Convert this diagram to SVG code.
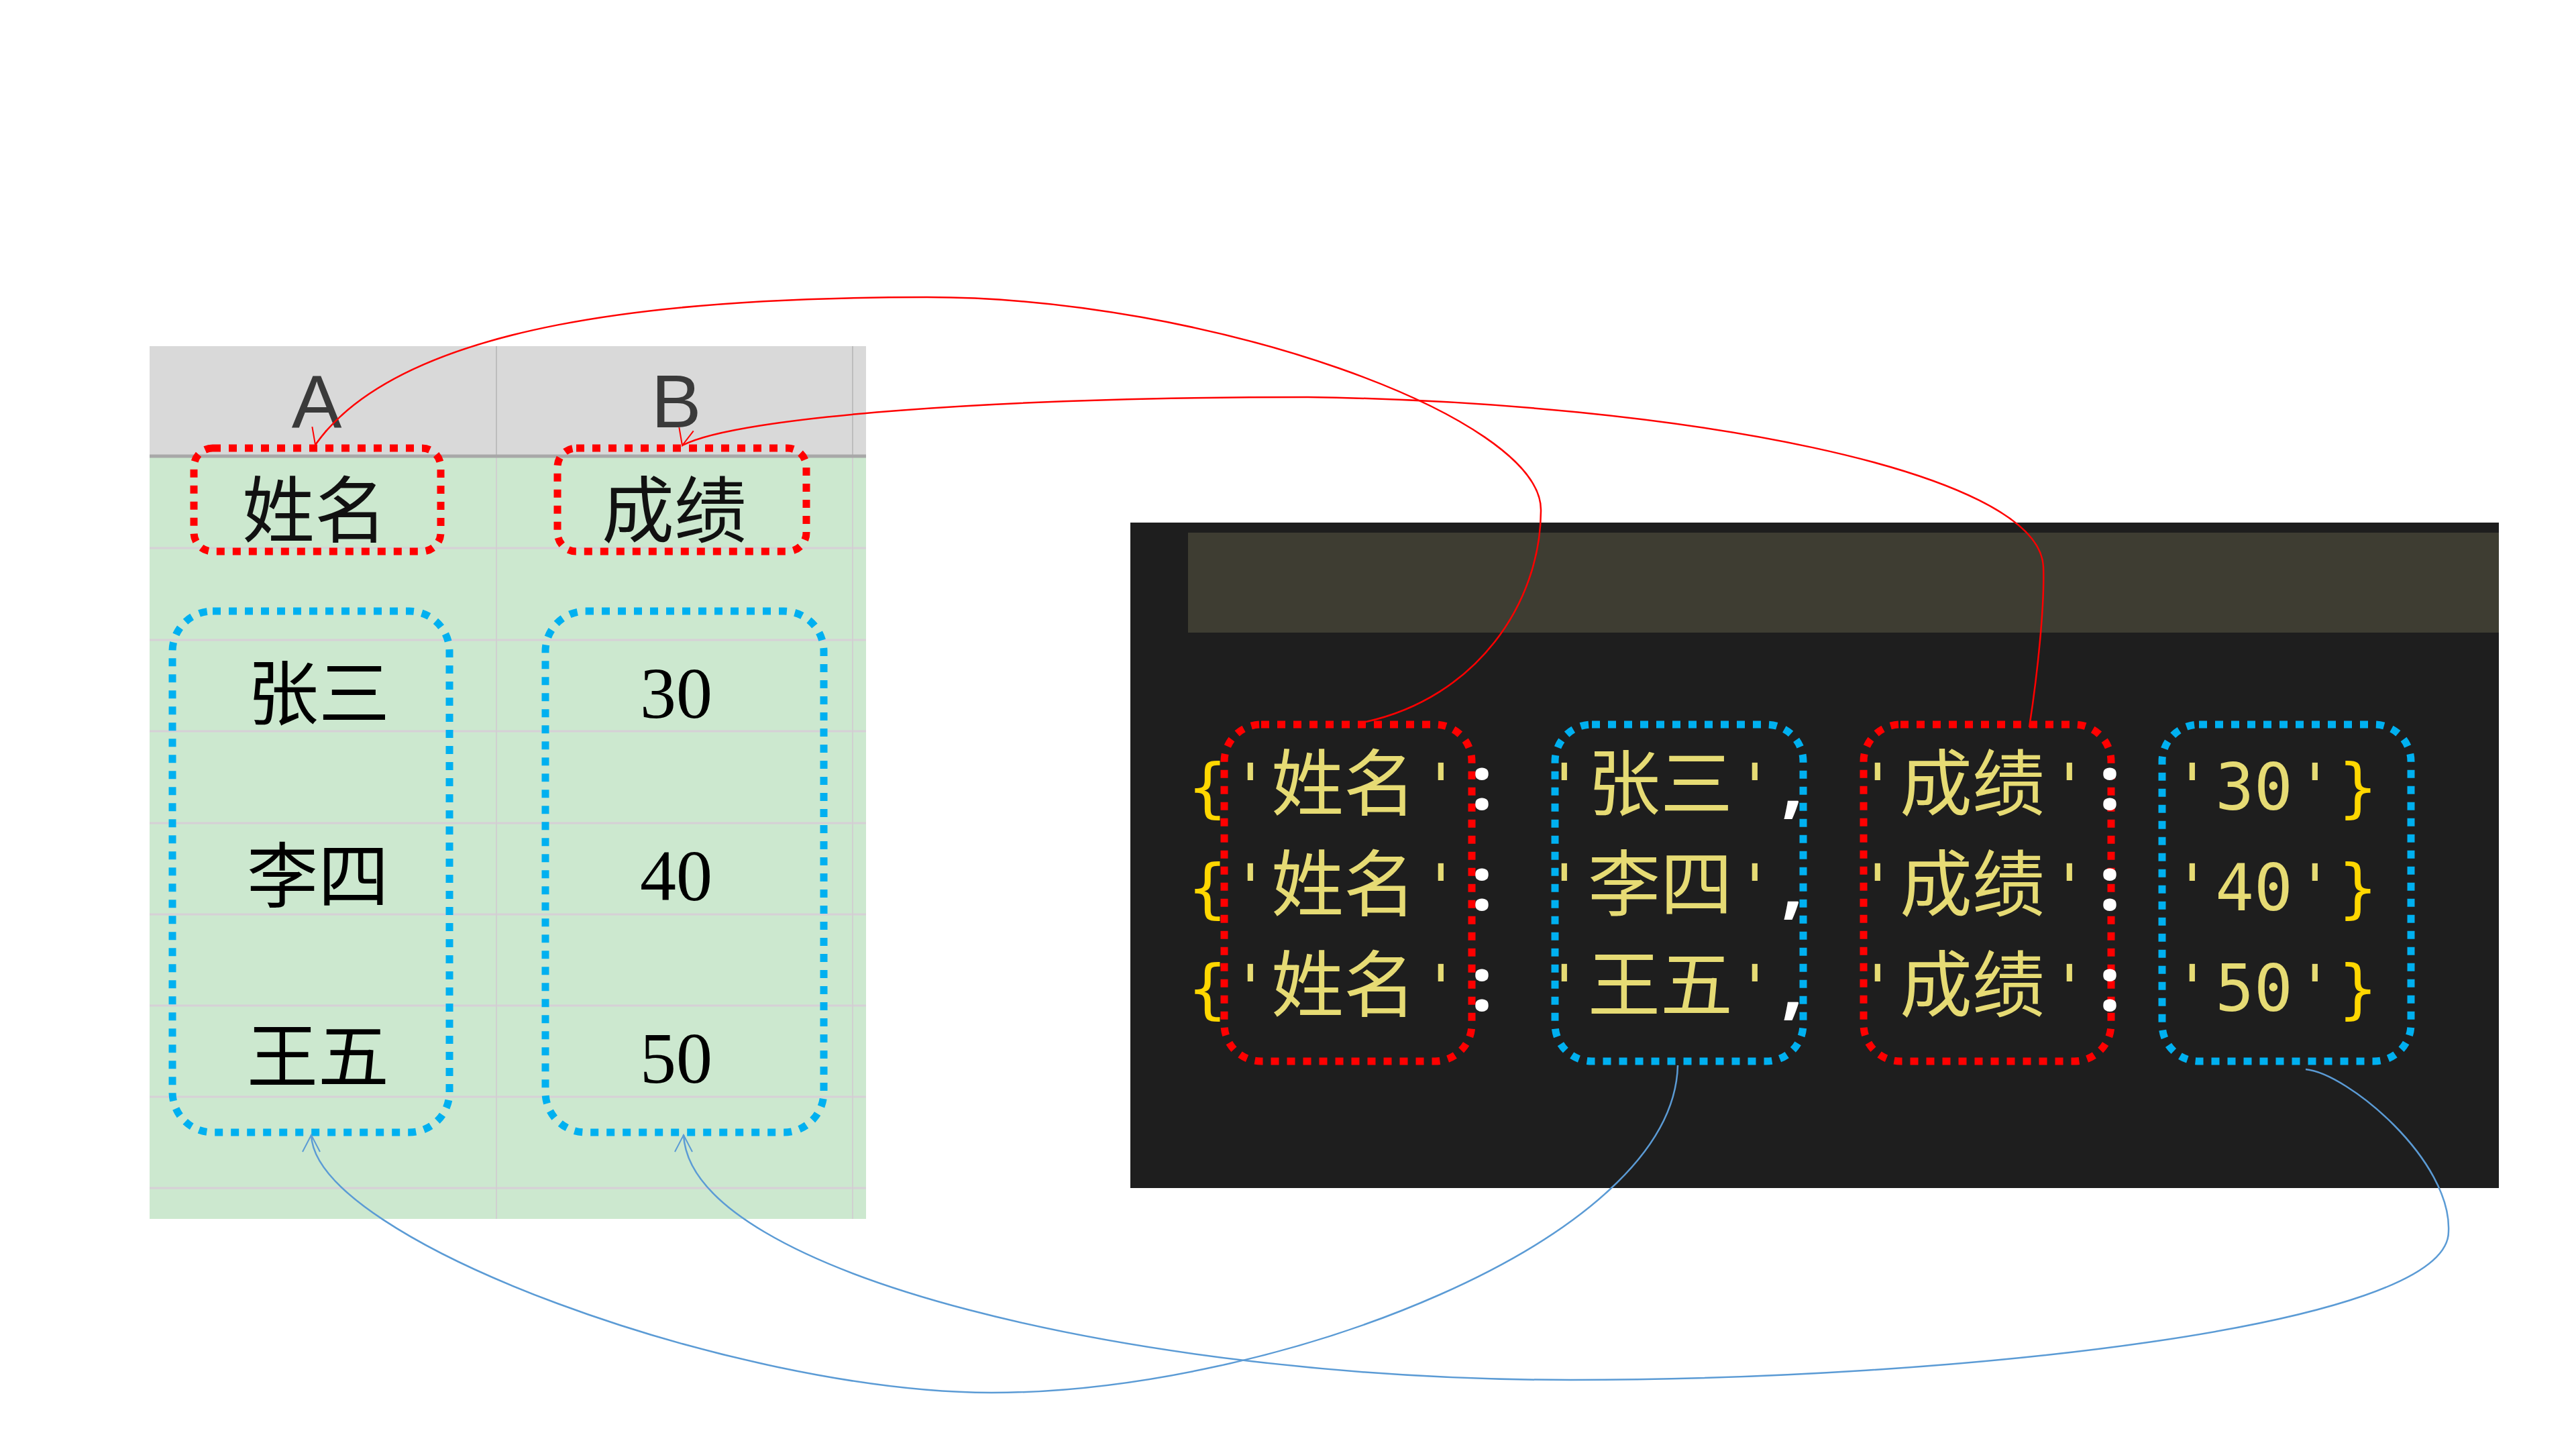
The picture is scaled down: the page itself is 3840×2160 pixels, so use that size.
<svg xmlns="http://www.w3.org/2000/svg" width="3840" height="2160" viewBox="0 0 3840 2160">
<defs>
<style>
.col{font-family:"Liberation Sans",Arial,sans-serif;font-size:112px;fill:#3a3a3a;text-anchor:middle}
.cell-cjk{font-family:"Noto Sans CJK SC",sans-serif;font-size:106px;fill:#000;text-anchor:middle}
.cell-head{font-family:"Noto Sans CJK SC",sans-serif;font-size:108px;fill:#111;text-anchor:middle}
.cell-num{font-family:"Liberation Serif",serif;font-size:108px;fill:#000;text-anchor:middle}
.code{font-family:"DejaVu Sans Mono","Liberation Mono",monospace;font-size:96px;text-anchor:middle}
.code-cjk{font-family:"Noto Sans CJK SC",sans-serif;font-size:108px;fill:#e6db74;text-anchor:middle}
.str{fill:#e6db74}
.brace{fill:#ffd700}
.punc{font-family:"Noto Sans",sans-serif;font-size:112px;font-weight:bold;fill:#ffffff;text-anchor:middle}
.box-red{fill:none;stroke:#ff0000;stroke-width:11;stroke-dasharray:12 12}
.box-blue{fill:none;stroke:#00b0f0;stroke-width:11;stroke-dasharray:12 12}
.grid{stroke:#d6d0d6;stroke-width:3}
.vgrid{stroke:#d0d0d0;stroke-width:2}
.conn-red{fill:none;stroke:#ff0000;stroke-width:2.5}
.conn-blue{fill:none;stroke:#5b9bd5;stroke-width:2.5}
</style>
<marker id="arrow-red" markerUnits="userSpaceOnUse" markerWidth="60" markerHeight="60" viewBox="-30 -30 60 60" refX="0" refY="0" orient="104" overflow="visible">
<path d="M -25 -11 L 0 0 L -25 11" fill="none" stroke="#ff0000" stroke-width="2"/>
</marker>
<marker id="arrow-blue" markerUnits="userSpaceOnUse" markerWidth="60" markerHeight="60" viewBox="-30 -30 60 60" refX="0" refY="0" orient="270" overflow="visible">
<path d="M -25 -13 L 0 0 L -25 13" fill="none" stroke="#5b9bd5" stroke-width="2"/>
</marker>
</defs>
<rect x="0" y="0" width="3840" height="2160" fill="#ffffff"/>

<g id="sheet">
<rect x="223" y="516" width="1068" height="164" fill="#d9d9d9"/>
<rect x="223" y="680" width="1068" height="1137" fill="#cce8cf"/>
<line x1="740" y1="516" x2="740" y2="680" stroke="#bdbdbd" stroke-width="2"/>
<line x1="1271" y1="516" x2="1271" y2="680" stroke="#bdbdbd" stroke-width="2"/>
<line class="grid" x1="223" y1="817" x2="1291" y2="817"/>
<line class="grid" x1="223" y1="954" x2="1291" y2="954"/>
<line class="grid" x1="223" y1="1090" x2="1291" y2="1090"/>
<line class="grid" x1="223" y1="1227" x2="1291" y2="1227"/>
<line class="grid" x1="223" y1="1363" x2="1291" y2="1363"/>
<line class="grid" x1="223" y1="1499" x2="1291" y2="1499"/>
<line class="grid" x1="223" y1="1635" x2="1291" y2="1635"/>
<line class="grid" x1="223" y1="1771" x2="1291" y2="1771"/>
<line class="vgrid" x1="740" y1="680" x2="740" y2="1817"/>
<line class="vgrid" x1="1271" y1="680" x2="1271" y2="1817"/>
<line x1="223" y1="680" x2="1291" y2="680" stroke="#a8a8a8" stroke-width="5"/>
<text class="col" x="472" y="637">A</text>
<text class="col" x="1008" y="637">B</text>
</g>

<g id="sheet-name-header">
<rect class="box-red" x="289" y="668" width="368" height="154" rx="28"/>
<text class="cell-head" x="469" y="800">姓名</text>
</g>
<g id="sheet-score-header">
<rect class="box-red" x="831" y="668" width="371" height="154" rx="28"/>
<text class="cell-head" x="1005" y="800">成绩</text>
</g>
<g id="sheet-name-values">
<rect class="box-blue" x="257" y="911" width="413" height="777" rx="60"/>
<text class="cell-cjk" x="475" y="1072">张三</text>
<text class="cell-cjk" x="474" y="1344">李四</text>
<text class="cell-cjk" x="474" y="1613">王五</text>
</g>
<g id="sheet-score-values">
<rect class="box-blue" x="813" y="911" width="415" height="777" rx="60"/>
<text class="cell-num" x="1008" y="1070">30</text>
<text class="cell-num" x="1008" y="1342">40</text>
<text class="cell-num" x="1008" y="1614">50</text>
</g>

<g id="code-panel">
<rect x="1685" y="779" width="2040" height="992" fill="#1e1e1e"/>
<rect x="1771" y="794" width="1954" height="149" fill="#3e3d32"/>
</g>

<g id="code-keys-name">
<rect class="box-red" x="1825" y="1080" width="369" height="502" rx="55"/>
<text class="code str" x="1864" y="1207">'</text><text class="code-cjk" x="2003" y="1207">姓名</text><text class="code str" x="2148" y="1207">'</text>
<text class="code str" x="1864" y="1357">'</text><text class="code-cjk" x="2003" y="1357">姓名</text><text class="code str" x="2148" y="1357">'</text>
<text class="code str" x="1864" y="1507">'</text><text class="code-cjk" x="2003" y="1507">姓名</text><text class="code str" x="2148" y="1507">'</text>
</g>
<g id="code-values-name">
<rect class="box-blue" x="2318" y="1080" width="370" height="502" rx="55"/>
<text class="code str" x="2332" y="1207">'</text><text class="code-cjk" x="2475" y="1207">张三</text><text class="code str" x="2616" y="1207">'</text>
<text class="code str" x="2332" y="1357">'</text><text class="code-cjk" x="2475" y="1357">李四</text><text class="code str" x="2616" y="1357">'</text>
<text class="code str" x="2332" y="1507">'</text><text class="code-cjk" x="2475" y="1507">王五</text><text class="code str" x="2616" y="1507">'</text>
</g>
<g id="code-keys-score">
<rect class="box-red" x="2778" y="1080" width="369" height="502" rx="55"/>
<text class="code str" x="2799" y="1207">'</text><text class="code-cjk" x="2940" y="1207">成绩</text><text class="code str" x="3085" y="1207">'</text>
<text class="code str" x="2799" y="1357">'</text><text class="code-cjk" x="2940" y="1357">成绩</text><text class="code str" x="3085" y="1357">'</text>
<text class="code str" x="2799" y="1507">'</text><text class="code-cjk" x="2940" y="1507">成绩</text><text class="code str" x="3085" y="1507">'</text>
</g>
<g id="code-values-score">
<rect class="box-blue" x="3223" y="1080" width="371" height="502" rx="55"/>
<text class="code str" x="3268" y="1207">'</text><text class="code str" x="3360" y="1207">30</text><text class="code str" x="3451" y="1207">'</text>
<text class="code str" x="3268" y="1357">'</text><text class="code str" x="3360" y="1357">40</text><text class="code str" x="3451" y="1357">'</text>
<text class="code str" x="3268" y="1507">'</text><text class="code str" x="3360" y="1507">50</text><text class="code str" x="3451" y="1507">'</text>
</g>
<g id="code-punctuation">
<text class="code brace" x="1800" y="1207">{</text>
<text class="code brace" x="1800" y="1357">{</text>
<text class="code brace" x="1800" y="1507">{</text>
<text class="punc" x="2209" y="1207">:</text>
<text class="punc" x="2209" y="1357">:</text>
<text class="punc" x="2209" y="1507">:</text>
<text class="punc" x="2672" y="1207">,</text>
<text class="punc" x="2672" y="1357">,</text>
<text class="punc" x="2672" y="1507">,</text>
<text class="punc" x="3145" y="1207">:</text>
<text class="punc" x="3145" y="1357">:</text>
<text class="punc" x="3145" y="1507">:</text>
<text class="code brace" x="3515" y="1207">}</text>
<text class="code brace" x="3515" y="1357">}</text>
<text class="code brace" x="3515" y="1507">}</text>
</g>

<g id="connectors">
<path class="conn-red" marker-end="url(#arrow-red)" d="M 2036 1076 C 2200 1040, 2297 900, 2297 760 C 2297 620, 1800 443, 1382 443 C 1000 443, 600 480, 470 663"/>
<path class="conn-red" marker-end="url(#arrow-red)" d="M 3025 1084 C 3038 1000, 3048 900, 3046 845 C 3040 700, 2500 600, 1950 592 C 1500 592, 1100 620, 1017 664"/>
<path class="conn-blue" marker-end="url(#arrow-blue)" d="M 2501 1588 C 2495 1850, 1900 2076, 1478 2076 C 1100 2076, 470 1850, 464 1692"/>
<path class="conn-blue" marker-end="url(#arrow-blue)" d="M 3437 1594 C 3500 1600, 3655 1730, 3650 1836 C 3650 1980, 2900 2057, 2342 2057 C 1700 2057, 1030 1900, 1019 1692"/>
</g>
</svg>
